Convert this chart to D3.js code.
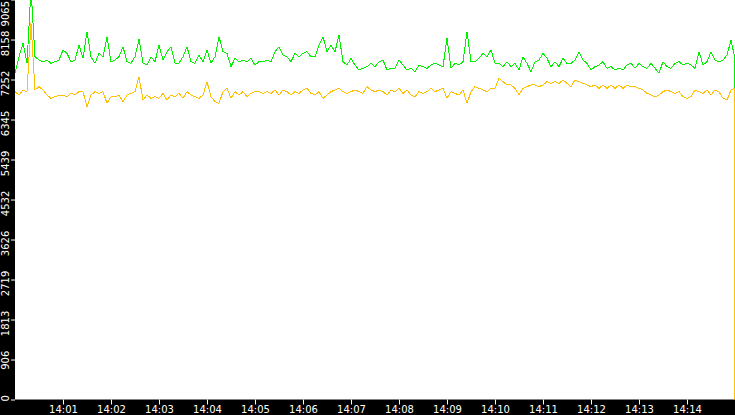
<!DOCTYPE html>
<html>
<head>
<meta charset="utf-8">
<script src="https://cdn.jsdelivr.net/npm/d3@7"></script>
<style>
body { margin: 0; background: #000; overflow: hidden; }
</style>
</head>
<body>
<div id="chart"></div>
<script>
// sampled every 5 s from 14:00:00, plus two tail points at the very end
var startClock = "14:00:00";
var endClock = "14:15:00";
var stepSeconds = 5;
var tailSeconds = [899, 899];

var xTickLabels = ["14:01", "14:02", "14:03", "14:04", "14:05", "14:06", "14:07",
                   "14:08", "14:09", "14:10", "14:11", "14:12", "14:13", "14:14"];
var yTickLabels = [0, 906, 1813, 2719, 3626, 4532, 5439, 6345, 7252, 8158, 9065];
var yMax = 9065;

var greenValues = [
    7399, 7769, 8071, 7619, 9300, 7769, 7693, 7655, 7693, 7619, 7655, 7693, 7921, 7845, 7655, 7693, 8034, 7732, 8335, 7769, 7619, 7845, 7769, 8221, 7655, 7693, 7769, 7995, 7655, 7619, 7769,
    8163, 7619, 7580, 7769, 7655, 8034, 7693, 7882, 7995, 7619, 7619, 7769, 7995, 7655, 7619, 7806, 7655, 7921, 7619, 7769, 8221, 7882, 7845, 7542, 7732, 7655, 7693, 7655, 7732, 7580,
    7655, 7655, 7693, 7655, 7882, 7995, 7806, 7769, 7655, 7845, 7769, 7845, 7882, 7769, 7769, 8034, 8221, 7882, 8034, 7882, 8260, 7655, 7580, 7732, 7580, 7467, 7506, 7542, 7619, 7542,
    7655, 7693, 7467, 7506, 7506, 7693, 7580, 7467, 7506, 7429, 7580, 7542, 7506, 7580, 7619, 7580, 7542, 8185, 7506, 7619, 7580, 7655, 8335, 7655, 7655, 7732, 7845, 7769, 7921, 7619,
    7619, 7542, 7655, 7542, 7619, 7467, 7769, 7619, 7429, 7655, 7693, 7845, 7732, 7542, 7655, 7542, 7732, 7619, 7619, 7693, 7882, 7693, 7619, 7467, 7542, 7580, 7655, 7506, 7542, 7467,
    7506, 7467, 7580, 7619, 7506, 7619, 7542, 7506, 7619, 7506, 7393, 7655, 7542, 7506, 7619, 7655, 7580, 7619, 7580, 7506, 7882, 7580, 7655, 7882, 7693, 7655, 7693, 7806, 8147
];
var greenTail = [7806, 3501];

var orangeValues = [
    6976, 6900, 7014, 6976, 8525, 7014, 7089, 7014, 6900, 6826, 6862, 6900, 6900, 6862, 6939, 6900, 6976, 6976, 6635, 6900, 6976, 6939, 6976, 6713, 6862, 6862, 6900, 6748, 6900, 6939, 6976,
    7315, 6787, 6900, 6826, 6862, 6826, 6939, 6787, 6900, 6862, 6939, 6826, 6976, 6900, 6862, 6826, 6900, 7202, 6862, 6748, 6713, 6976, 7052, 6826, 6976, 6900, 6976, 6862, 6939, 6976,
    6976, 6939, 6976, 6939, 7014, 6900, 7014, 6976, 6900, 6976, 6939, 7014, 7052, 6939, 6900, 6976, 6826, 6900, 6976, 7014, 7052, 6976, 6939, 6976, 7014, 6976, 6939, 7089, 7014, 6976,
    7014, 6976, 6900, 7014, 6976, 7052, 6939, 7014, 6900, 6862, 6976, 6939, 6976, 7052, 6976, 7014, 7052, 6826, 6976, 6939, 6900, 7014, 6713, 6976, 7089, 7052, 7014, 6976, 7052, 7052,
    7278, 7202, 7128, 7128, 7052, 6900, 7052, 7089, 7128, 7128, 7089, 7128, 7202, 7165, 7202, 7165, 7241, 7165, 7089, 7241, 7202, 7165, 7128, 7089, 7128, 7052, 7128, 7052, 7128, 7052,
    7128, 7052, 7128, 7089, 7089, 7052, 7014, 6939, 6900, 6862, 6900, 6976, 7014, 6976, 6939, 6976, 6862, 6826, 6862, 7014, 6976, 6939, 7014, 6900, 7014, 6976, 6826, 6787, 7014
];
var orangeTail = [7052, 0];

var w = 735;
var h = 415;
var plotLeft = 15;
var plotBottom = 399.5;

var parseClock = d3.timeParse("%H:%M:%S");
var parseMinute = d3.timeParse("%H:%M");
var t0 = parseClock(startClock);

function toSeries(values, tail) {
    var pts = values.map(function (v, i) {
        return { t: d3.timeSecond.offset(t0, i * stepSeconds), v: v };
    });
    tail.forEach(function (v, i) {
        pts.push({ t: d3.timeSecond.offset(t0, tailSeconds[i]), v: v });
    });
    return pts;
}

var greenSeries = toSeries(greenValues, greenTail);
var orangeSeries = toSeries(orangeValues, orangeTail);

var x = d3.scaleTime()
    .domain([t0, parseClock(endClock)])
    .range([plotLeft, w]);

var y = d3.scaleLinear()
    .domain([0, yMax])
    .range([plotBottom, -0.5]);

var svg = d3.select("#chart")
    .append("svg")
    .attr("width", w)
    .attr("height", h)
    .style("display", "block")
    .style("background", "#000");

svg.append("clipPath")
    .attr("id", "plotClip")
    .append("rect")
    .attr("x", plotLeft)
    .attr("y", 0)
    .attr("width", w - plotLeft)
    .attr("height", plotBottom);

svg.append("rect")
    .attr("x", plotLeft)
    .attr("y", 0)
    .attr("width", w - plotLeft)
    .attr("height", plotBottom)
    .attr("fill", "#fff");

var line = d3.line()
    .x(function (d) { return x(d.t); })
    .y(function (d) { return y(d.v); });

var lines = svg.append("g").attr("clip-path", "url(#plotClip)");

lines.append("path")
    .datum(greenSeries)
    .attr("d", line)
    .attr("fill", "none")
    .attr("stroke", "#00f000")
    .attr("stroke-width", 1)
    .style("shape-rendering", "crispEdges");

lines.append("path")
    .datum(orangeSeries)
    .attr("d", line)
    .attr("fill", "none")
    .attr("stroke", "#ffc000")
    .attr("stroke-width", 1)
    .style("shape-rendering", "crispEdges");

// y axis, labels turned on their side
var yAxis = svg.append("g")
    .attr("transform", "translate(" + plotLeft + ",0)")
    .call(d3.axisLeft(y).tickValues(yTickLabels).tickSize(4).tickFormat(d3.format("d")));

yAxis.select(".domain").remove();
yAxis.selectAll(".tick line").attr("stroke", "#fff");
yAxis.selectAll(".tick text")
    .attr("x", null)
    .attr("dy", null)
    .attr("fill", "#fff")
    .attr("font-family", "DejaVu Sans")
    .attr("font-size", 10)
    .attr("text-anchor", "end")
    .attr("transform", function (d) {
        var off = d === 0 ? -5 : -9.3;
        if (y(d) + off < 0.5) off = 0.5 - y(d);
        return "translate(-5.7," + off + ") rotate(-90)";
    });

// x axis
var xAxis = svg.append("g")
    .attr("transform", "translate(0," + plotBottom + ")")
    .call(d3.axisBottom(x)
        .tickValues(xTickLabels.map(function (s) { return parseMinute(s); }))
        .tickSize(5)
        .tickPadding(1)
        .tickFormat(d3.timeFormat("%H:%M")));

xAxis.select(".domain").remove();
xAxis.selectAll(".tick line").attr("stroke", "#fff");
xAxis.selectAll(".tick text")
    .attr("fill", "#fff")
    .attr("font-family", "DejaVu Sans")
    .attr("font-size", 10);
</script>
</body>
</html>
